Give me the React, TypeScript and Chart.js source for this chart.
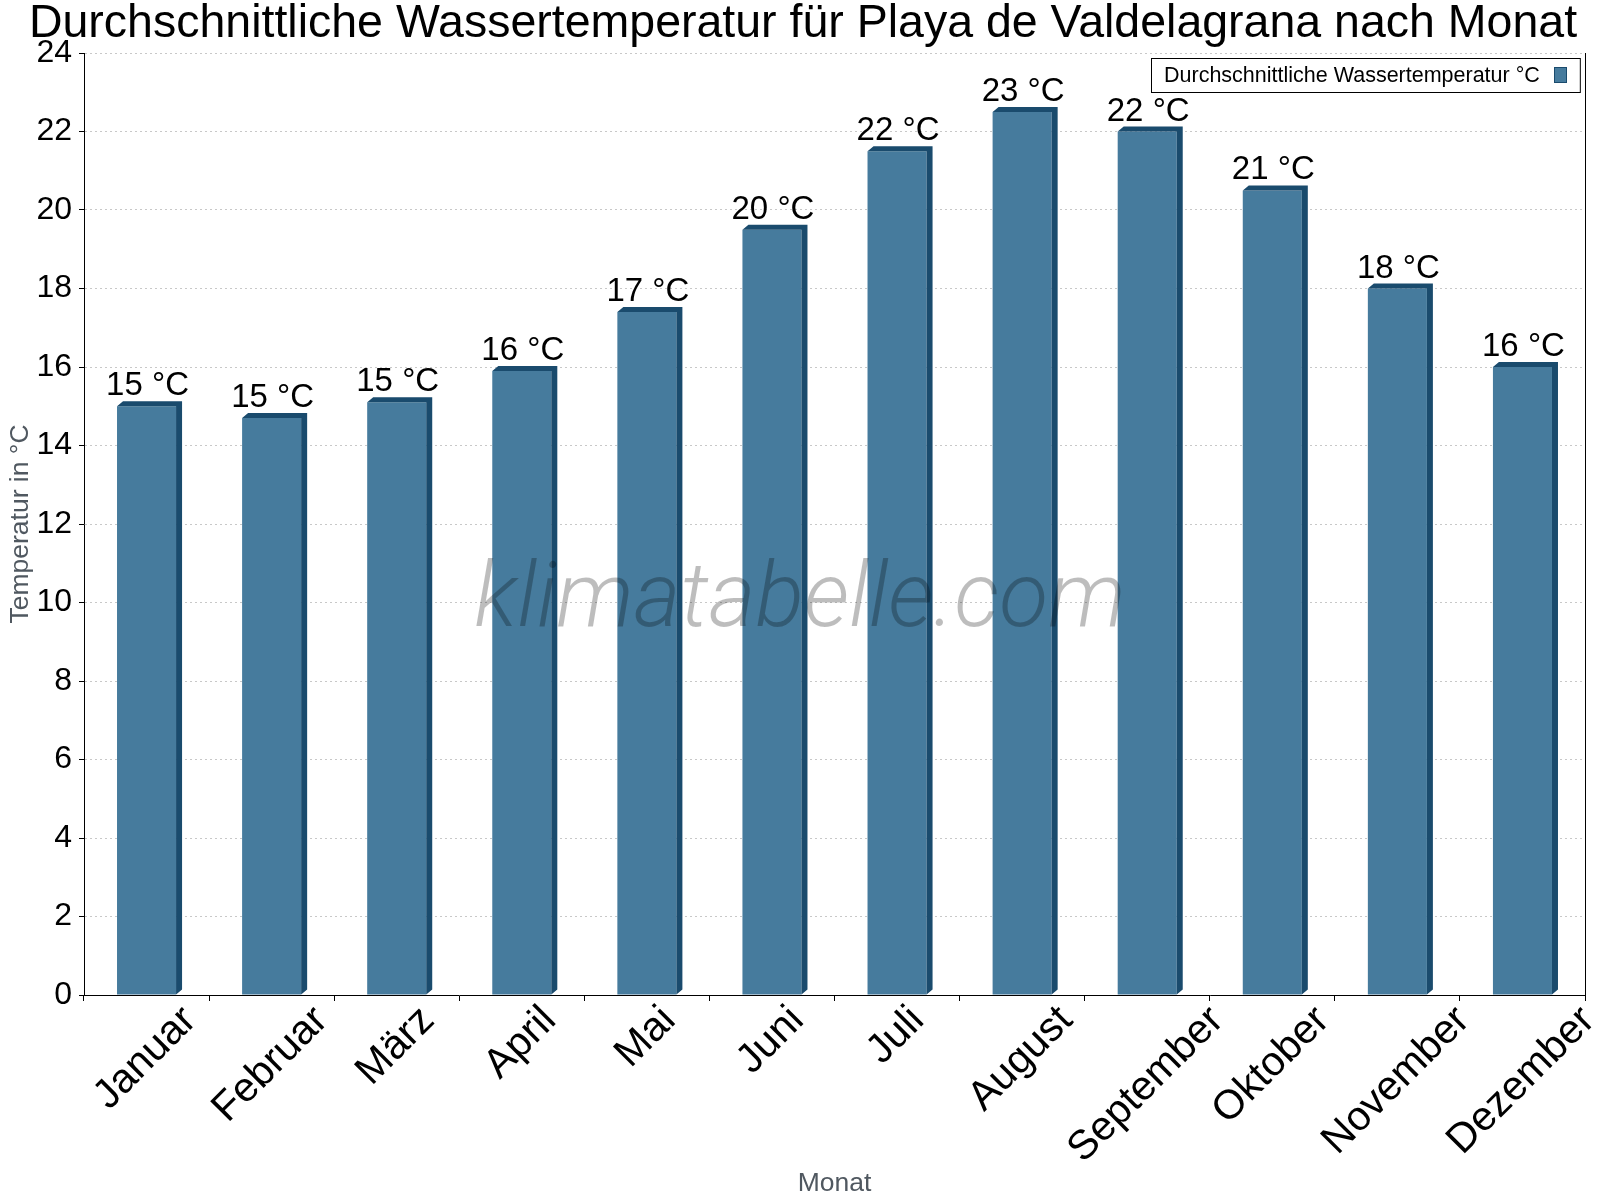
import React, { useEffect, useRef } from 'react';
import { Chart, registerables } from 'chart.js';

Chart.register(...registerables);

const TITLE = 'Durchschnittliche Wassertemperatur für Playa de Valdelagrana nach Monat';
const MONTHS = ['Januar', 'Februar', 'März', 'April', 'Mai', 'Juni', 'Juli', 'August', 'September', 'Oktober', 'November', 'Dezember'];
const WATER_TEMP = [15.0, 14.7, 15.1, 15.9, 17.4, 19.5, 21.5, 22.5, 22.0, 20.5, 18.0, 16.0];
const SERIES_LABEL = 'Durchschnittliche Wassertemperatur °C';
const Y_TITLE = 'Temperatur in °C';
const X_TITLE = 'Monat';
const WATERMARK = 'klimatabelle.com';
const Y_MIN = 0;
const Y_MAX = 24;
const Y_STEP = 2;

const FRONT = '#467b9d';
const DARK = '#1a4b6d';
const GREY = '#505860';
const FONT = '"Liberation Sans", Arial, Helvetica, sans-serif';
const DX = 6;
const DY = 5;

const decor = {
  id: 'decor',
  afterDatasetsDraw(chart: any) {
    const ctx = chart.ctx;
    const meta = chart.getDatasetMeta(0);
    ctx.save();
    ctx.fillStyle = DARK;
    meta.data.forEach((bar: any) => {
      const { x, y, base, width } = bar.getProps(['x', 'y', 'base', 'width'], true);
      const l = x - width / 2;
      const r = x + width / 2;
      ctx.beginPath();
      ctx.moveTo(l, y);
      ctx.lineTo(l + DX, y - DY);
      ctx.lineTo(r + DX, y - DY);
      ctx.lineTo(r + DX, base - DY);
      ctx.lineTo(r, base);
      ctx.lineTo(r, y);
      ctx.closePath();
      ctx.fill();
    });
    ctx.restore();
  },
  afterDraw(chart: any) {
    const ctx = chart.ctx;
    const area = chart.chartArea;
    const xs = chart.scales.x;
    const meta = chart.getDatasetMeta(0);
    ctx.save();

    // title
    ctx.fillStyle = '#000';
    ctx.font = `46.5px ${FONT}`;
    ctx.textAlign = 'center';
    ctx.textBaseline = 'alphabetic';
    ctx.fillText(TITLE, chart.width / 2 + 3, 37);

    // right frame line
    ctx.strokeStyle = '#000';
    ctx.lineWidth = 1;
    const rx = Math.round(area.right) + 0.5;
    ctx.beginPath();
    ctx.moveTo(rx, area.top);
    ctx.lineTo(rx, area.bottom);
    ctx.stroke();

    // x tick labels (rotated around centre)
    ctx.font = `41px ${FONT}`;
    ctx.textAlign = 'center';
    MONTHS.forEach((m, i) => {
      const cx = xs.getPixelForValue(i);
      const L = ctx.measureText(m).width;
      const bx = cx + 7;
      const by = area.bottom + 27 + (L / 2) * Math.SQRT1_2;
      ctx.save();
      ctx.translate(bx, by);
      ctx.rotate(-Math.PI / 4);
      ctx.fillText(m, 0, 0);
      ctx.restore();
    });

    // data labels
    ctx.font = `33px ${FONT}`;
    ctx.textAlign = 'center';
    meta.data.forEach((bar: any, i: number) => {
      const { x, y } = bar.getProps(['x', 'y'], true);
      ctx.fillText(`${Math.round(WATER_TEMP[i])} °C`, x + 1, y - 11);
    });

    // legend
    ctx.font = `21.5px ${FONT}`;
    const tw = ctx.measureText(SERIES_LABEL).width;
    const w = 13 + tw + 14 + 13 + 13;
    const h = 34;
    const lx = Math.round(area.right - 5 - w);
    const ly = Math.round(area.top + 5);
    ctx.fillStyle = '#fff';
    ctx.fillRect(lx, ly, w, h);
    ctx.strokeStyle = '#000';
    ctx.strokeRect(lx + 0.5, ly + 0.5, w, h);
    ctx.fillStyle = '#000';
    ctx.textAlign = 'left';
    ctx.fillText(SERIES_LABEL, lx + 13, ly + 24);
    const bxx = Math.round(lx + 13 + tw + 14);
    ctx.fillStyle = FRONT;
    ctx.fillRect(bxx, ly + 9, 13, 16);
    ctx.strokeStyle = DARK;
    ctx.strokeRect(bxx + 0.5, ly + 9.5, 12, 15);

    // watermark
    ctx.font = `italic 300 90px Roboto, "Open Sans", sans-serif`;
    ctx.fillStyle = 'rgba(0,0,0,0.26)';
    ctx.textAlign = 'center';
    ctx.textBaseline = 'alphabetic';
    ctx.fillText(WATERMARK, chart.width / 2, 626);

    ctx.restore();
  },
};

export default function App() {
  const ref = useRef<HTMLCanvasElement>(null);
  useEffect(() => {
    document.body.style.margin = '0';
    const chart = new Chart(ref.current as HTMLCanvasElement, {
      type: 'bar',
      data: {
        labels: MONTHS,
        datasets: [
          {
            label: SERIES_LABEL,
            data: WATER_TEMP,
            backgroundColor: FRONT,
            borderWidth: 0,
            categoryPercentage: 1,
            barPercentage: 0.472,
          },
        ],
      },
      options: {
        responsive: false,
        animation: false,
        devicePixelRatio: 1,
        layout: { padding: { top: 53, right: 15, left: 0, bottom: 0 } },
        plugins: {
          legend: { display: false },
          title: { display: false },
          tooltip: { enabled: false },
        },
        scales: {
          x: {
            grid: {
              display: true,
              drawOnChartArea: false,
              drawTicks: true,
              tickLength: 6,
              tickColor: '#000',
              offset: true,
            },
            border: { display: true, color: '#000', width: 1 },
            ticks: { display: false },
            title: {
              display: true,
              text: X_TITLE,
              color: GREY,
              font: { family: FONT, size: 26.5 },
              padding: { top: 0, bottom: 0 },
            },
            afterFit: (s: any) => {
              s.height = 205;
            },
          },
          y: {
            min: Y_MIN,
            max: Y_MAX,
            ticks: {
              stepSize: Y_STEP,
              color: '#000',
              font: { family: FONT, size: 32 },
              padding: 7,
            },
            grid: {
              color: '#c8c8c8',
              lineWidth: 1,
              tickLength: 5,
              tickColor: '#000',
              tickBorderDash: [],
            },
            border: { display: true, color: '#000', width: 1, dash: [2, 3] },
            title: {
              display: true,
              text: Y_TITLE,
              color: GREY,
              font: { family: FONT, size: 26.5 },
              padding: { top: 5, bottom: 0 },
            },
            afterFit: (s: any) => {
              s.width = 84;
            },
          },
        },
      },
      plugins: [decor],
    } as any);
    return () => chart.destroy();
  }, []);
  return (
    <div style={{ width: 1600, height: 1200, background: '#fff' }}>
      <canvas ref={ref} width={1600} height={1200} style={{ display: 'block', width: 1600, height: 1200 }} />
    </div>
  );
}
